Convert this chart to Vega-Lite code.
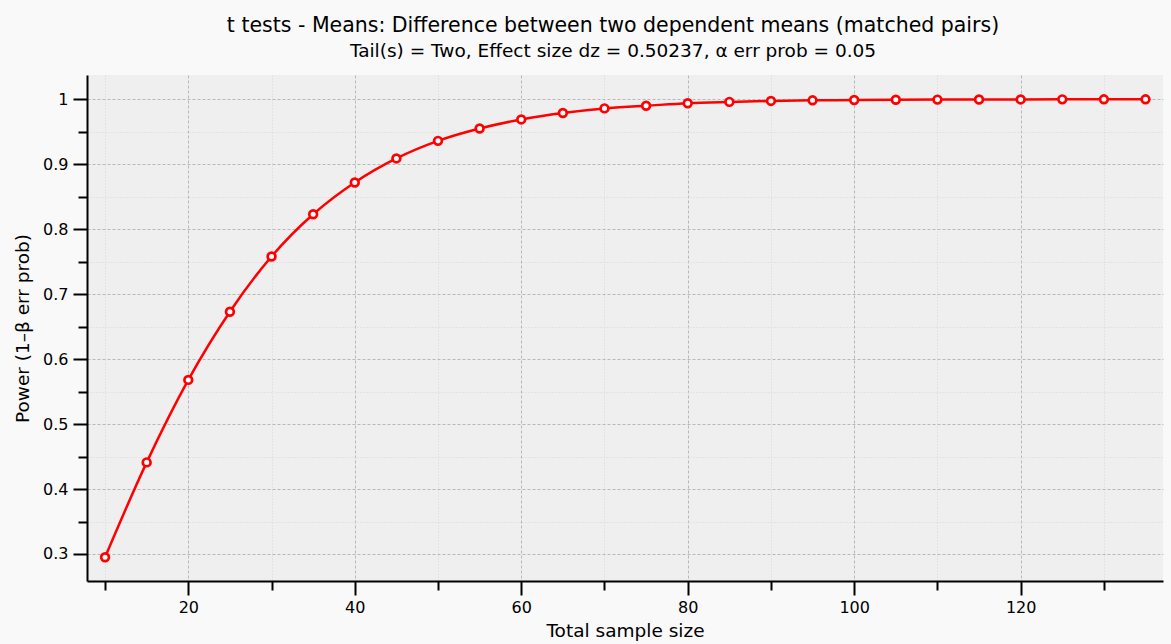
{
  "$schema": "https://vega.github.io/schema/vega-lite/v6.json",
  "width": 1076,
  "height": 506,
  "autosize": "none",
  "padding": {"left": 87, "top": 75, "right": 8, "bottom": 63},
  "background": "#f9f9f9",
  "view": {"fill": "#efefef", "stroke": null},
  "title": {
    "text": "t tests - Means: Difference between two dependent means (matched pairs)",
    "subtitle": "Tail(s) = Two, Effect size dz = 0.50237, α err prob = 0.05",
    "anchor": "middle",
    "frame": "group",
    "dx": -12,
    "font": "DejaVu Sans",
    "subtitleFont": "DejaVu Sans",
    "fontSize": 20.5,
    "subtitleFontSize": 18.5,
    "fontWeight": "normal",
    "color": "#000000",
    "subtitleColor": "#000000",
    "subtitlePadding": 5,
    "offset": 15
  },
  "data": {
    "values": [
      {"n": 10, "power": 0.295},
      {"n": 15, "power": 0.441},
      {"n": 20, "power": 0.568},
      {"n": 25, "power": 0.673},
      {"n": 30, "power": 0.758},
      {"n": 35, "power": 0.823},
      {"n": 40, "power": 0.872},
      {"n": 45, "power": 0.909},
      {"n": 50, "power": 0.936},
      {"n": 55, "power": 0.955},
      {"n": 60, "power": 0.969},
      {"n": 65, "power": 0.979},
      {"n": 70, "power": 0.986},
      {"n": 75, "power": 0.990},
      {"n": 80, "power": 0.994},
      {"n": 85, "power": 0.996},
      {"n": 90, "power": 0.9975},
      {"n": 95, "power": 0.9984},
      {"n": 100, "power": 0.9989},
      {"n": 105, "power": 0.9993},
      {"n": 110, "power": 0.9995},
      {"n": 115, "power": 0.9997},
      {"n": 120, "power": 0.9998},
      {"n": 125, "power": 0.9999},
      {"n": 130, "power": 0.99993},
      {"n": 135, "power": 0.99996}
    ]
  },
  "encoding": {
    "x": {
      "field": "n",
      "type": "quantitative",
      "scale": {"domain": [7.83, 137.1], "nice": false, "zero": false},
      "axis": {
        "title": "Total sample size",
        "titleFont": "DejaVu Sans",
        "titleFontSize": 18.5,
        "titleFontWeight": "normal",
        "titleColor": "#000000",
        "titlePadding": 6,
        "values": [10, 20, 30, 40, 50, 60, 70, 80, 90, 100, 110, 120, 130],
        "labelExpr": "datum.value % 20 == 0 ? datum.label : ''",
        "labelFont": "DejaVu Sans",
        "labelFontSize": 16,
        "labelColor": "#000000",
        "labelPadding": 4,
        "labelFlush": false,
        "domainColor": "#000000",
        "domainWidth": 2,
        "tickColor": "#000000",
        "tickWidth": 2,
        "tickSize": {"condition": {"test": "datum.value % 20 == 0", "value": 14}, "value": 9},
        "grid": true,
        "gridColor": {"condition": {"test": "datum.value % 20 == 0", "value": "#b8b8b8"}, "value": "#d6d6d6"},
        "gridDash": {"condition": {"test": "datum.value % 20 == 0", "value": [3, 2]}, "value": [1, 2]},
        "gridWidth": 1
      }
    },
    "y": {
      "field": "power",
      "type": "quantitative",
      "scale": {"domain": [0.2584, 1.0374], "nice": false, "zero": false},
      "axis": {
        "title": "Power (1–β err prob)",
        "titleFont": "DejaVu Sans",
        "titleFontSize": 18.5,
        "titleFontWeight": "normal",
        "titleColor": "#000000",
        "titlePadding": 10,
        "values": [0.3, 0.35, 0.4, 0.45, 0.5, 0.55, 0.6, 0.65, 0.7, 0.75, 0.8, 0.85, 0.9, 0.95, 1.0],
        "labelExpr": "round(datum.value*100) % 10 == 0 ? toString(round(datum.value*10)/10) : ''",
        "labelFont": "DejaVu Sans",
        "labelFontSize": 16,
        "labelColor": "#000000",
        "labelPadding": 5,
        "labelFlush": false,
        "domainColor": "#000000",
        "domainWidth": 2,
        "tickColor": "#000000",
        "tickWidth": 2,
        "tickSize": {"condition": {"test": "round(datum.value*100) % 10 == 0", "value": 14}, "value": 9},
        "grid": true,
        "gridColor": {"condition": {"test": "round(datum.value*100) % 10 == 0", "value": "#b8b8b8"}, "value": "#d6d6d6"},
        "gridDash": {"condition": {"test": "round(datum.value*100) % 10 == 0", "value": [3, 2]}, "value": [1, 2]},
        "gridWidth": 1
      }
    }
  },
  "layer": [
    {"mark": {"type": "line", "color": "#ff0000", "strokeWidth": 2.5, "interpolate": "monotone"}},
    {"mark": {"type": "point", "shape": "circle", "filled": true, "fill": "#ffffff", "stroke": "#ff0000", "strokeWidth": 2.7, "size": 60, "opacity": 1}}
  ]
}
